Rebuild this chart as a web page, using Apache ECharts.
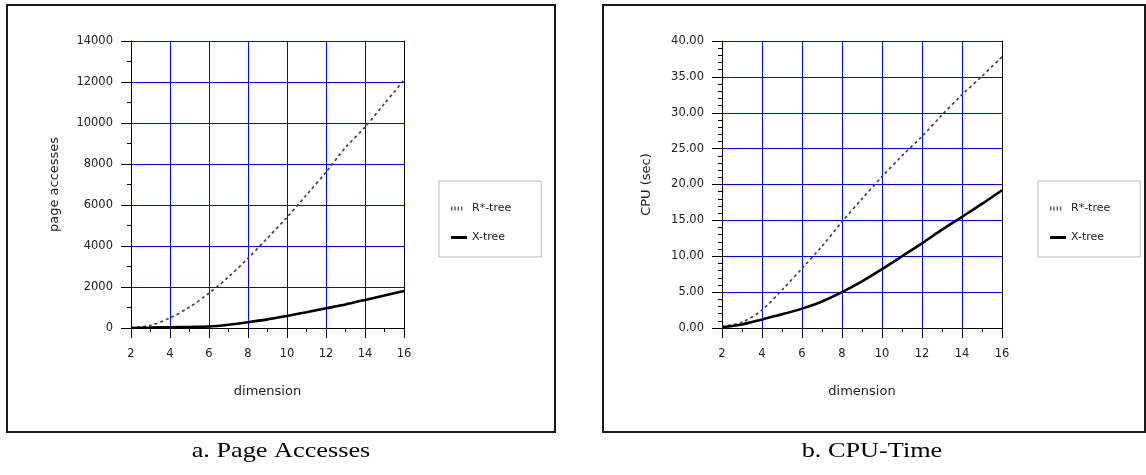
<!DOCTYPE html>
<html>
<head>
<meta charset="utf-8">
<script src="https://cdn.jsdelivr.net/npm/echarts@6/dist/echarts.min.js"></script>
<style>
html,body{margin:0;padding:0;background:#fff;}
#c{width:1146px;height:475px;}
</style>
</head>
<body>
<div id="c"></div>
<script>
// ---- data ----
const dims = [2, 3, 4, 5, 6, 7, 8, 9, 10, 11, 12, 13, 14, 15, 16];
const pageRStar = [0, 130, 490, 1020, 1700, 2490, 3400, 4390, 5400, 6490, 7600, 8800, 9800, 10950, 12100];
const pageXTree = [0, 20, 40, 50, 70, 160, 280, 420, 590, 770, 960, 1150, 1370, 1590, 1810];
const cpuRStar = [0.2, 0.8, 2.5, 5.3, 8.3, 11.4, 14.8, 18.0, 21.1, 24.0, 26.7, 29.7, 32.5, 35.1, 37.8];
const cpuXTree = [0.1, 0.5, 1.2, 1.9, 2.7, 3.7, 5.0, 6.5, 8.2, 10.0, 11.8, 13.7, 15.5, 17.3, 19.2];
const seriesNames = ['R*-tree', 'X-tree'];
const yNames = ['page accesses', 'CPU (sec)'];
const xName = 'dimension';
const captions = ['a. Page Accesses', 'b. CPU-Time'];

const pairs = (ys) => dims.map((d, i) => [d, ys[i]]);

const FONT = 'DejaVu Sans';
const TXT = '#222';

function xAxisCfg(gi) {
  return {
    type: 'value', gridIndex: gi, min: 2, max: 16, interval: 2,
    name: xName, nameLocation: 'middle', nameGap: 57,
    nameTextStyle: {fontFamily: FONT, fontSize: 13, color: TXT},
    axisLine: {show: true, lineStyle: {color: '#000', width: 1}},
    axisTick: {show: true, length: 10, lineStyle: {color: '#000'}},
    minorTick: {show: true, splitNumber: 2, length: 4, lineStyle: {color: '#000'}},
    axisLabel: {fontFamily: FONT, fontSize: 11.5, color: TXT, margin: 20},
    splitLine: {show: true, showMinLine: false, showMaxLine: false, lineStyle: {color: '#0000ff', width: 1}},
    minorSplitLine: {show: false}
  };
}
function yAxisCfg(gi, max, interval, minorSplit, fmt, nameGap) {
  return {
    type: 'value', gridIndex: gi, min: 0, max: max, interval: interval,
    name: yNames[gi], nameLocation: 'middle', nameGap: nameGap,
    nameTextStyle: {fontFamily: FONT, fontSize: 13, color: TXT},
    axisLine: {show: true, lineStyle: {color: '#000', width: 1}},
    axisTick: {show: true, length: 10, lineStyle: {color: '#000'}},
    minorTick: {show: true, splitNumber: minorSplit, length: 4, lineStyle: {color: '#000'}},
    axisLabel: {fontFamily: FONT, fontSize: 11.5, color: TXT, margin: 18, formatter: fmt, padding: [7, 0, 0, 0]},
    splitLine: {show: true, showMinLine: false, showMaxLine: true, lineStyle: {color: '#0000ff', width: 1}}
  };
}
function rightBorder(gi, max) {
  return {
    type: 'value', gridIndex: gi, position: 'right', min: 0, max: max, z: 5,
    axisLine: {show: true, lineStyle: {color: '#000', width: 1}},
    axisTick: {show: false}, axisLabel: {show: false}, splitLine: {show: false}
  };
}
// legend icons: short dotted ticks for R*-tree, thick bar for X-tree
const ICON_DOTS = 'path://M0,0h1.4v4h-1.4z M3.3,0h1.4v4h-1.4z M6.6,0h1.4v4h-1.4z M9.9,0h1.4v4h-1.4z M16,0h0.01v0.01h-0.01z';
const ICON_BAR = 'path://M0,0.5h16v3h-16z M0,0h0.01v0.01h-0.01z M16,4h0.01v0.01h-0.01z';
function legendCfg(left) {
  return {
    left: left, top: 181, orient: 'vertical',
    data: [
      {name: seriesNames[0], icon: ICON_DOTS, itemStyle: {color: '#555'}},
      {name: seriesNames[1], icon: ICON_BAR, itemStyle: {color: '#000'}}
    ],
    backgroundColor: '#fff', borderColor: '#bbb', borderWidth: 1,
    padding: [22, 30, 14, 12], itemGap: 18, itemWidth: 16, itemHeight: 4,
    textStyle: {fontFamily: FONT, fontSize: 11, color: TXT},
    selectedMode: false
  };
}
function seriesPair(gi, rs, xt) {
  return [
    {name: seriesNames[0], type: 'line', xAxisIndex: gi, yAxisIndex: gi * 2, data: pairs(rs),
     showSymbol: false, symbol: 'none', smooth: 0.3,
     lineStyle: {color: '#444', width: 1.7, type: [3, 3]}, itemStyle: {color: '#555'}, z: 3},
    {name: seriesNames[1], type: 'line', xAxisIndex: gi, yAxisIndex: gi * 2, data: pairs(xt),
     showSymbol: false, symbol: 'none', smooth: 0.3,
     lineStyle: {color: '#000', width: 2.6}, itemStyle: {color: '#000'}, z: 4}
  ];
}

const chart = echarts.init(document.getElementById('c'), null, {renderer: 'canvas'});
chart.setOption({
  animation: false,
  backgroundColor: '#fff',
  grid: [
    {left: 131, top: 41, width: 273, height: 287, outerBoundsMode: 'none'},
    {left: 722, top: 41, width: 280, height: 287, outerBoundsMode: 'none'}
  ],
  xAxis: [xAxisCfg(0), xAxisCfg(1)],
  yAxis: [
    yAxisCfg(0, 14000, 2000, 2, v => String(v), 70),
    rightBorder(0, 14000),
    yAxisCfg(1, 40, 5, 5, v => v.toFixed(2), 69),
    rightBorder(1, 40)
  ],
  legend: [legendCfg(439), legendCfg(1038)],
  series: [].concat(seriesPair(0, pageRStar, pageXTree), seriesPair(1, cpuRStar, cpuXTree)),
  graphic: [
    {type: 'rect', shape: {x: 7, y: 5, width: 548, height: 427}, style: {fill: 'none', stroke: '#1a1a1a', lineWidth: 2}, z: -1},
    {type: 'rect', shape: {x: 603, y: 5, width: 542, height: 427}, style: {fill: 'none', stroke: '#1a1a1a', lineWidth: 2}, z: -1},
    {type: 'text', x: 281, y: 441, scaleX: 1.25, style: {text: captions[0], font: '21px "Liberation Serif"', fill: '#000', textAlign: 'center', textVerticalAlign: 'top'}},
    {type: 'text', x: 872, y: 441, scaleX: 1.25, style: {text: captions[1], font: '21px "Liberation Serif"', fill: '#000', textAlign: 'center', textVerticalAlign: 'top'}}
  ]
});
</script>
</body>
</html>
